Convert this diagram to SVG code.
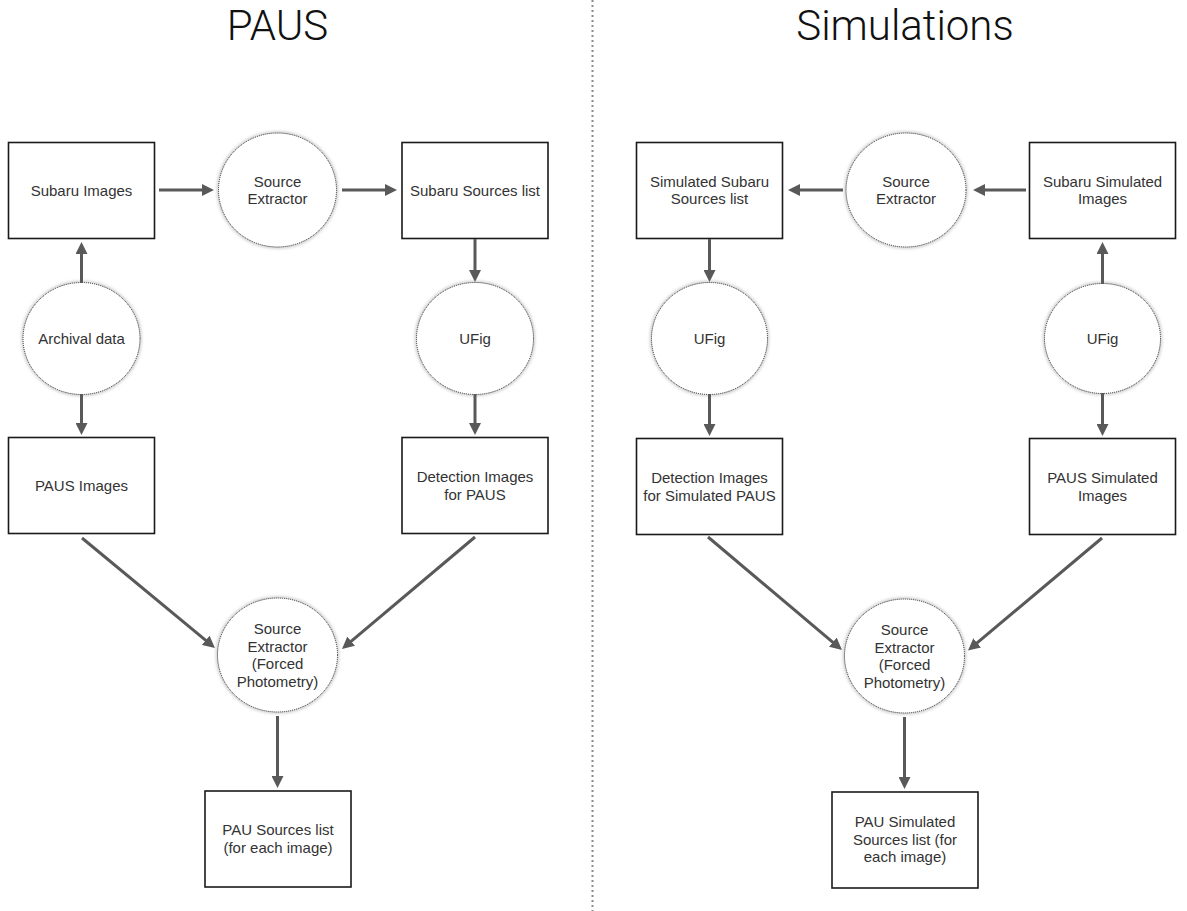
<svg xmlns="http://www.w3.org/2000/svg" width="1187" height="911" viewBox="0 0 1187 911">
<style>
.box{fill:#fff;stroke:#1a1a1a;stroke-width:1.6}
.halo{fill:none;stroke:#c8c8c8;stroke-width:3;filter:url(#blur)}
.dot{fill:#fff;stroke:#2a2a2a;stroke-width:1;stroke-dasharray:1 1}
.lbl{font-family:"Liberation Sans",Arial,sans-serif;font-size:15px;fill:#333;text-anchor:middle}
.title{font-family:Roboto,"Liberation Sans",Arial,sans-serif;font-weight:300;font-size:42px;fill:#111;text-anchor:middle}
.con line{stroke:#595959;stroke-width:3;marker-end:url(#ah)}
</style>
<defs>
<filter id="blur" x="-20%" y="-20%" width="140%" height="140%"><feGaussianBlur stdDeviation="1.5"/></filter>
<marker id="ah" markerUnits="userSpaceOnUse" markerWidth="12" markerHeight="12" viewBox="0 0 12 12" refX="4" refY="6" orient="auto"><path d="M0,0 L12,6 L0,12 z" fill="#595959"/></marker>
</defs>
<rect width="1187" height="911" fill="#fff"/>
<line x1="592.5" y1="0" x2="592.5" y2="911" stroke="#8a8a8a" stroke-width="2" stroke-dasharray="2 3"/>
<text class="title" x="277.5" y="40">PAUS</text>
<text class="title" x="905" y="40">Simulations</text>

<g id="subaru_images"><rect class="box" x="8.5" y="142.5" width="146" height="96"/><text class="lbl" x="81.5" y="196">Subaru Images</text></g>
<g id="source_extractor_1"><ellipse class="halo" cx="277.5" cy="190" rx="59" ry="57"/><ellipse class="dot" cx="277.5" cy="190" rx="59" ry="57"/><text class="lbl" x="277.5" y="186.5">Source</text><text class="lbl" x="277.5" y="204">Extractor</text></g>
<g id="subaru_sources"><rect class="box" x="402" y="142.5" width="146" height="96"/><text class="lbl" x="475" y="196">Subaru Sources list</text></g>
<g id="archival"><ellipse class="halo" cx="81.5" cy="338.5" rx="58.5" ry="56"/><ellipse class="dot" cx="81.5" cy="338.5" rx="58.5" ry="56"/><text class="lbl" x="81.5" y="344">Archival data</text></g>
<g id="ufig_1"><ellipse class="halo" cx="475" cy="338.5" rx="58.5" ry="56"/><ellipse class="dot" cx="475" cy="338.5" rx="58.5" ry="56"/><text class="lbl" x="475" y="344">UFig</text></g>
<g id="paus_images"><rect class="box" x="8.5" y="437.5" width="146" height="96"/><text class="lbl" x="81.5" y="491">PAUS Images</text></g>
<g id="detection_paus"><rect class="box" x="402" y="437.5" width="146" height="96"/><text class="lbl" x="475" y="482">Detection Images</text><text class="lbl" x="475" y="499.5">for PAUS</text></g>
<g id="sefp_1"><ellipse class="halo" cx="277.5" cy="655" rx="60" ry="57"/><ellipse class="dot" cx="277.5" cy="655" rx="60" ry="57"/><text class="lbl" x="277.5" y="634">Source</text><text class="lbl" x="277.5" y="651.5">Extractor</text><text class="lbl" x="277.5" y="669">(Forced</text><text class="lbl" x="277.5" y="686.5">Photometry)</text></g>
<g id="pau_sources"><rect class="box" x="205" y="791" width="146" height="96"/><text class="lbl" x="278" y="835">PAU Sources list</text><text class="lbl" x="278" y="852.5">(for each image)</text></g>

<g id="sim_subaru_sources"><rect class="box" x="636.5" y="142.5" width="146" height="96"/><text class="lbl" x="709.5" y="186.5">Simulated Subaru</text><text class="lbl" x="709.5" y="204">Sources list</text></g>
<g id="source_extractor_2"><ellipse class="halo" cx="906" cy="190" rx="60" ry="57"/><ellipse class="dot" cx="906" cy="190" rx="60" ry="57"/><text class="lbl" x="906" y="186.5">Source</text><text class="lbl" x="906" y="204">Extractor</text></g>
<g id="subaru_sim_images"><rect class="box" x="1029.5" y="142.5" width="146" height="96"/><text class="lbl" x="1102.5" y="186.5">Subaru Simulated</text><text class="lbl" x="1102.5" y="204">Images</text></g>
<g id="ufig_2"><ellipse class="halo" cx="709.5" cy="338.5" rx="58" ry="56"/><ellipse class="dot" cx="709.5" cy="338.5" rx="58" ry="56"/><text class="lbl" x="709.5" y="344">UFig</text></g>
<g id="ufig_3"><ellipse class="halo" cx="1102.5" cy="338.5" rx="58" ry="55"/><ellipse class="dot" cx="1102.5" cy="338.5" rx="58" ry="55"/><text class="lbl" x="1102.5" y="344">UFig</text></g>
<g id="detection_sim"><rect class="box" x="636.5" y="438.5" width="146" height="96"/><text class="lbl" x="709.5" y="483">Detection Images</text><text class="lbl" x="709.5" y="500.5">for Simulated PAUS</text></g>
<g id="paus_sim_images"><rect class="box" x="1029.5" y="438.5" width="146" height="96"/><text class="lbl" x="1102.5" y="483">PAUS Simulated</text><text class="lbl" x="1102.5" y="500.5">Images</text></g>
<g id="sefp_2"><ellipse class="halo" cx="904.5" cy="656" rx="60" ry="57"/><ellipse class="dot" cx="904.5" cy="656" rx="60" ry="57"/><text class="lbl" x="904.5" y="635">Source</text><text class="lbl" x="904.5" y="652.5">Extractor</text><text class="lbl" x="904.5" y="670">(Forced</text><text class="lbl" x="904.5" y="687.5">Photometry)</text></g>
<g id="pau_sim_sources"><rect class="box" x="832" y="792" width="146" height="96"/><text class="lbl" x="905" y="827">PAU Simulated</text><text class="lbl" x="905" y="844.5">Sources list (for</text><text class="lbl" x="905" y="862">each image)</text></g>

<g id="connectors" class="con">
<line x1="159" y1="190" x2="206" y2="190"/>
<line x1="342" y1="190" x2="389" y2="190"/>
<line x1="81.5" y1="283" x2="81.5" y2="250"/>
<line x1="81.5" y1="394" x2="81.5" y2="427"/>
<line x1="475" y1="239" x2="475" y2="274"/>
<line x1="475" y1="394" x2="475" y2="427"/>
<line x1="82" y1="538" x2="208.8" y2="642.9"/>
<line x1="475" y1="537" x2="348.1" y2="643.8"/>
<line x1="277.5" y1="716" x2="277.5" y2="780"/>
<line x1="843" y1="190" x2="796" y2="190"/>
<line x1="1026" y1="190" x2="981" y2="190"/>
<line x1="709.5" y1="239" x2="709.5" y2="274"/>
<line x1="709.5" y1="394" x2="709.5" y2="428"/>
<line x1="1102.5" y1="284" x2="1102.5" y2="250"/>
<line x1="1102.5" y1="393" x2="1102.5" y2="428"/>
<line x1="708" y1="537" x2="835.9" y2="644.8"/>
<line x1="1102" y1="538" x2="974.1" y2="645.4"/>
<line x1="904.5" y1="717" x2="904.5" y2="781"/>
</g>
</svg>
